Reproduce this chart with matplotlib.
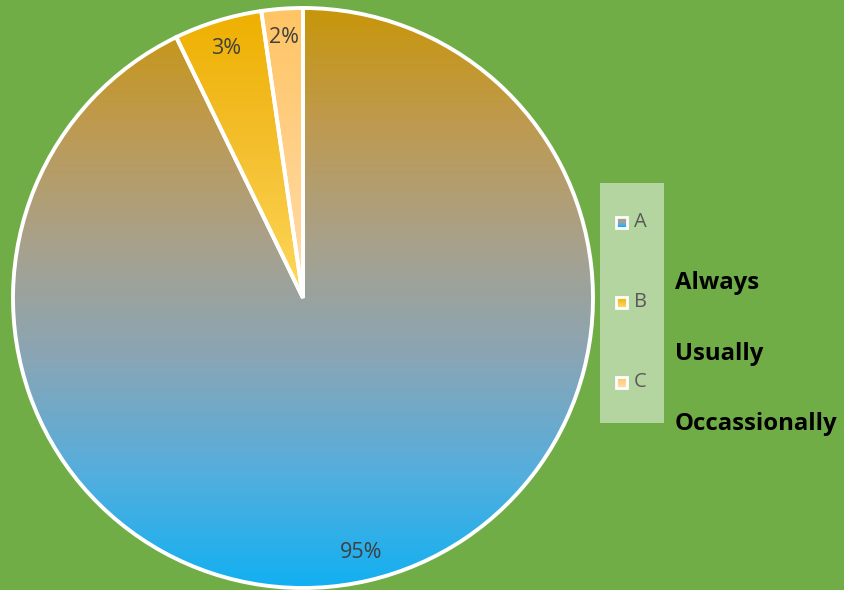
import numpy as np
import matplotlib
matplotlib.use("Agg")
import matplotlib.pyplot as plt
from matplotlib.colors import LinearSegmentedColormap
from matplotlib.patches import Rectangle

categories = ["A", "B", "C"]
values = [92.8, 4.9, 2.3]
pct_labels = ["95%", "3%", "2%"]
side_texts = ["Always", "Usually", "Occassionally"]

W, H = 844, 590
fig = plt.figure(figsize=(W / 100, H / 100), dpi=100)
fig.patch.set_facecolor("#70AD47")
ax = fig.add_axes([0, 0, 1, 1])

cx, cy, R = 303, 591 - 299, 290
wedges, _ = ax.pie(values, startangle=90, counterclock=False, center=(cx, cy),
                   radius=R, wedgeprops=dict(edgecolor="white", linewidth=2.8),
                   colors=["none"] * 3, frame=True)
ax.set_xlim(0, W)
ax.set_ylim(0, H)
ax.set_aspect("equal")
ax.axis("off")

grads = [
    ["#C8960A", "#BE9A50", "#A9A18A", "#8AA5B5", "#55AEDD", "#12B0F2"],
    ["#EEB000", "#F4C030", "#FFD85A"],
    ["#FFC463", "#FFD088", "#FFDDAA"],
]
for i, (w, cols) in enumerate(zip(wedges, grads)):
    cmap = LinearSegmentedColormap.from_list("g", cols)
    bb = w.get_path().get_extents(w.get_patch_transform())
    if i == 0:
        x0, x1, y0, y1 = cx - R, cx + R, cy - R, cy + R
    else:
        x0, x1, y0, y1 = bb.x0, bb.x1, bb.y0, bb.y1
    grad = np.linspace(0, 1, 256).reshape(-1, 1)
    im = ax.imshow(grad, cmap=cmap, extent=[x0, x1, y0, y1], origin="upper",
                   aspect="auto", zorder=0.5)
    im.set_clip_path(w)
    w.set_zorder(1)

for w, lab in zip(wedges, pct_labels):
    ang = np.deg2rad((w.theta1 + w.theta2) / 2)
    ax.text(cx + 0.9 * R * np.cos(ang), cy + 0.9 * R * np.sin(ang), lab,
            ha="center", va="center", fontsize=15.5, color="#404040",
            family="Open Sans", zorder=3)

# legend box
ax.add_patch(Rectangle((600, H - 423), 64, 240, facecolor="#B5D5A0",
                       edgecolor="none", zorder=2))
leg_y = [222, 302, 382]
for i, (c, cols, y) in enumerate(zip(categories, grads, leg_y)):
    yy = H - y
    box = Rectangle((616, yy - 5.5), 11, 11, facecolor="none",
                    edgecolor="white", linewidth=2, zorder=4)
    ax.add_patch(box)
    cmap = LinearSegmentedColormap.from_list("lg", cols)
    im = ax.imshow(np.linspace(0, 1, 32).reshape(-1, 1), cmap=cmap,
                   extent=[616, 627, yy - 5.5, yy + 5.5], origin="upper",
                   aspect="auto", zorder=3)
    im.set_clip_path(box)
    ax.text(634, yy, c, ha="left", va="center", fontsize=14.5,
            color="#595959", family="Open Sans", zorder=3)

for t, y in zip(side_texts, [283, 354, 424]):
    ax.text(675, H - y, t, ha="left", va="center", fontsize=17.2,
            fontweight="bold", color="black", family="Open Sans", zorder=3)

fig.savefig("out.png", dpi=100, facecolor=fig.get_facecolor())
